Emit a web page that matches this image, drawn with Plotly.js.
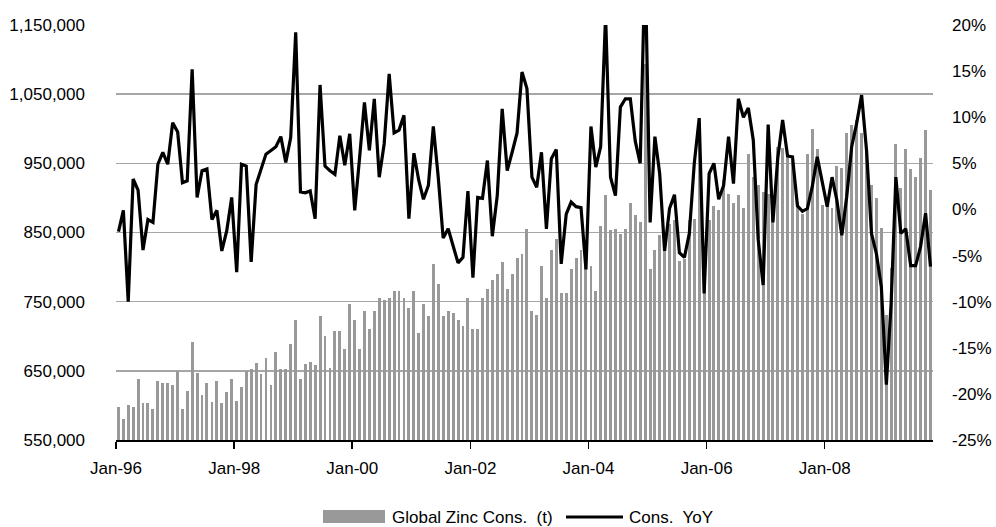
<!DOCTYPE html>
<html>
<head>
<meta charset="utf-8">
<script src="https://cdn.plot.ly/plotly-3.0.1.min.js"></script>
<style>
  html, body { margin: 0; padding: 0; background: #fff; }
  #chart { width: 996px; height: 527px; }
</style>
</head>
<body>
<div id="chart"></div>
<script>
// Monthly global zinc consumption (t), Jan-96 .. Oct-09
const zincCons = [
  597000, 580000, 601000, 597000, 638000, 604000, 604000, 595000, 635000, 633000, 633000, 630000,
  650000, 595000, 621000, 691000, 647000, 615000, 633000, 605000, 636000, 603000, 619000, 638000,
  607000, 627000, 650000, 652000, 662000, 645000, 669000, 630000, 677000, 652000, 652000, 689000,
  723000, 638000, 660000, 663000, 658000, 729000, 701000, 654000, 707000, 707000, 681000, 746000,
  723000, 681000, 737000, 710000, 737000, 755000, 752000, 755000, 766000, 766000, 755000, 741000,
  766000, 704000, 746000, 729000, 805000, 776000, 729000, 737000, 734000, 723000, 715000, 755000,
  711000, 711000, 755000, 768000, 782000, 790000, 808000, 768000, 790000, 813000, 819000, 855000,
  737000, 731000, 802000, 755000, 825000, 841000, 763000, 763000, 797000, 813000, 825000, 800000,
  802000, 766000, 859000, 904000, 853000, 855000, 848000, 855000, 893000, 876000, 865000, 1094000,
  797000, 825000, 846000, 838000, 863000, 868000, 809000, 811000, 868000, 870000, 995000, 830000,
  868000, 889000, 883000, 926000, 905000, 893000, 904000, 885000, 963000, 930000, 918000, 909000,
  906000, 904000, 974000, 972000, 963000, 954000, 894000, 877000, 963000, 999000, 971000, 890000,
  897000, 886000, 946000, 943000, 994000, 1005000, 1012000, 994000, 971000, 918000, 900000, 856000,
  731000, 798000, 978000, 915000, 971000, 942000, 930000, 958000, 998000, 912000
];

// Year-on-year change of consumption, %
const consYoY = [
  -2.4, -0.1, -10.0, 3.3, 2.1, -4.4, -1.1, -1.4, 4.9, 6.2, 4.9, 9.4,
  8.4, 2.9, 3.1, 15.2, 1.3, 4.2, 4.4, -1.1, -0.1, -4.5, -2.3, 1.3,
  -6.8, 4.9, 4.7, -5.7, 2.7, 4.5, 6.0, 6.4, 6.8, 7.9, 5.1, 7.8,
  19.2, 1.9, 1.8, 2.0, -1.0, 13.5, 4.7, 4.2, 3.8, 8.0, 4.8, 8.2,
  -0.1, 5.6, 11.6, 6.4, 12.0, 3.5, 7.1, 14.7, 8.3, 8.6, 10.2, -1.0,
  6.1, 3.2, 1.1, 2.6, 9.0, 3.5, -3.1, -2.1, -4.0, -5.8, -5.2, 2.0,
  -7.4, 1.3, 1.2, 5.3, -2.9, 1.5, 10.9, 4.2, 6.2, 8.3, 14.9, 13.1,
  3.5, 2.4, 6.2, -2.1, 5.5, 6.5, -5.9, -0.5, 0.8, 0.3, 0.2, -6.5,
  9.0, 4.6, 6.8, 21.0, 3.5, 1.5, 11.1, 12.0, 12.0, 7.4, 5.0, 27.0,
  -1.4, 7.9, 3.9, -4.5, 0.1, 1.6, -4.7, -5.2, -2.6, 5.0, 9.9, -9.1,
  3.9, 5.0, 1.1, 2.6, 7.9, 2.8, 12.0, 10.0, 11.0, 7.5, -3.3, -8.2,
  9.2, -1.4, 5.5, 9.7, 5.8, 5.7, 0.4, -0.2, 0.1, 2.5, 5.7, 3.2,
  0.3, 3.5, 1.0, -2.8, 1.4, 6.8, 9.3, 12.4, 6.4, -2.6, -4.8, -8.4,
  -19.0, -10.2, 3.5, -2.6, -2.1, -6.1, -6.1, -4.0, -0.4, -6.2
];

// Right axis tick labels
const yoyTickVals = [-25, -20, -15, -10, -5, 0, 5, 10, 15, 20];
const yoyTickText = ['-25%', '-20%', '-15%', '-10%', '-5%', '0%', '5%', '10%', '15%', '20%'];

// Month categories, one per value
const months = [];
for (let i = 0; i < zincCons.length; i++) {
  months.push(new Date(Date.UTC(1996, i, 1)).toISOString().slice(0, 7));
}

const FONT = 'Liberation Sans, Arial, sans-serif';
const FS = 17;
const DAY = 24 * 3600 * 1000;

// plot area in pixels, used for the hand drawn legend
const PL = 116, PR = 933, PT = 25, PB = 440;
const px = x => (x - PL) / (PR - PL);
const py = y => (PB - y) / (PB - PT);

const barTrace = {
  type: 'bar', name: 'Global Zinc Cons. (t)',
  x: months, y: zincCons,
  xperiod: 'M1', xperiodalignment: 'middle',
  width: 18 * DAY,
  marker: { color: '#999999', line: { width: 0 } },
  yaxis: 'y', hoverinfo: 'skip'
};

const lineTrace = {
  type: 'scatter', mode: 'lines', name: 'Cons. YoY',
  x: months, y: consYoY,
  xperiod: 'M1', xperiodalignment: 'middle',
  line: { color: '#000000', width: 3.2 },
  yaxis: 'y2', hoverinfo: 'skip'
};

const tickFont = { family: FONT, size: FS, color: '#000000' };

const layout = {
  width: 996, height: 527,
  margin: { l: PL, r: 996 - PR, t: PT, b: 527 - PB },
  paper_bgcolor: '#ffffff', plot_bgcolor: '#ffffff',
  font: { family: FONT, size: FS, color: '#000000' },
  showlegend: false,
  bargap: 0,
  xaxis: {
    type: 'date',
    range: ['1996-01-01', '2009-11-01'],
    tick0: '1996-01-01', dtick: 'M24', tickformat: '%b-%y',
    ticks: 'outside', ticklen: 7, tickwidth: 1.5, tickcolor: '#000000',
    showline: true, linecolor: '#000000', linewidth: 1.5,
    showgrid: false, zeroline: false,
    ticklabelstandoff: 5,
    tickfont: tickFont
  },
  yaxis: {
    range: [550000, 1150000], tick0: 550000, dtick: 100000, tickformat: ',d',
    showgrid: true, gridcolor: '#a6a6a6', gridwidth: 1.5,
    zeroline: false, showline: false, ticks: '',
    ticklabelstandoff: 30,
    tickfont: tickFont
  },
  yaxis2: {
    overlaying: 'y', side: 'right',
    range: [-25, 20],
    tickmode: 'array', tickvals: yoyTickVals, ticktext: yoyTickText,
    showgrid: false, zeroline: false, showline: false, ticks: '',
    ticklabelstandoff: 18,
    tickfont: tickFont
  },
  shapes: [
    { type: 'rect', xref: 'paper', yref: 'paper',
      x0: px(323), x1: px(385), y0: py(523), y1: py(510),
      fillcolor: '#999999', line: { width: 0 } },
    { type: 'line', xref: 'paper', yref: 'paper',
      x0: px(566), x1: px(623), y0: py(517), y1: py(517),
      line: { color: '#000000', width: 3 } }
  ],
  annotations: [
    { xref: 'paper', yref: 'paper', x: px(390), y: py(517),
      xanchor: 'left', yanchor: 'middle', showarrow: false,
      text: 'Global Zinc Cons.\u00a0 (t)', font: tickFont },
    { xref: 'paper', yref: 'paper', x: px(627), y: py(517),
      xanchor: 'left', yanchor: 'middle', showarrow: false,
      text: 'Cons.\u00a0 YoY', font: tickFont }
  ]
};

Plotly.newPlot('chart', [barTrace, lineTrace], layout, { staticPlot: true, displayModeBar: false });
</script>
</body>
</html>
